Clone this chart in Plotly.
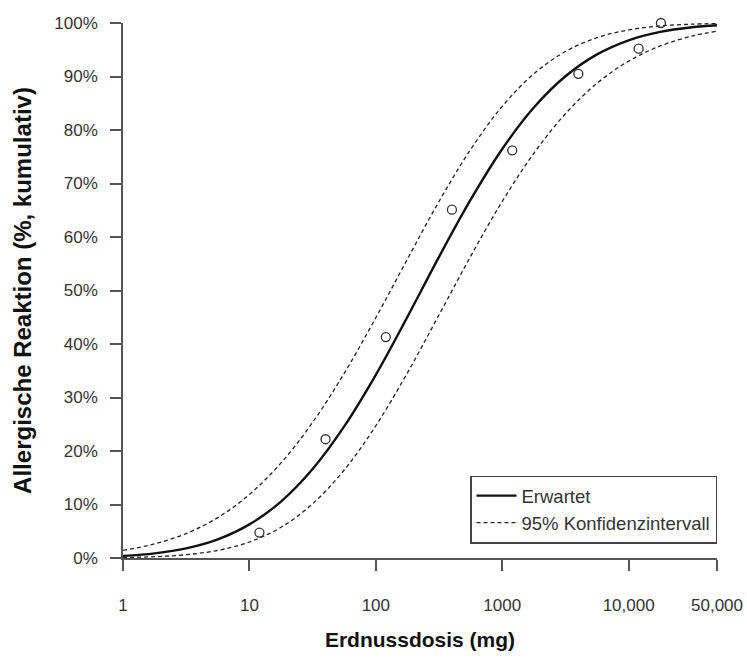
import plotly.graph_objects as go

# Observed data (dose in mg, cumulative % reacting)
obs_dose = [12, 40, 120, 400, 1200, 4000, 12000, 18000]
obs_pct = [0.0476, 0.222, 0.413, 0.651, 0.762, 0.905, 0.952, 1.000]

# Curves at log-spaced doses
curve_dose = [1, 1.778, 3.162, 5.623, 10, 17.78, 31.62, 56.23, 100, 177.8,
              316.2, 562.3, 1000, 1778, 3162, 5623, 10000, 17780, 31620, 50000]
expected = [0.0039, 0.0087, 0.0180, 0.0348, 0.0628, 0.1055, 0.1663, 0.2460, 0.3424, 0.4507,
            0.5628, 0.6697, 0.7645, 0.8420, 0.9004, 0.9413, 0.9677, 0.9834, 0.9920, 0.9958]
ci_upper = [0.0143, 0.0263, 0.0457, 0.0755, 0.1187, 0.1777, 0.2535, 0.3452, 0.4491, 0.5588,
            0.6664, 0.7637, 0.8442, 0.9050, 0.9467, 0.9726, 0.9871, 0.9945, 0.9978, 0.9990]
ci_lower = [0.0009, 0.0024, 0.0062, 0.0142, 0.0299, 0.0574, 0.1013, 0.1645, 0.2472, 0.3461,
            0.4544, 0.5638, 0.6665, 0.7565, 0.8303, 0.8873, 0.9287, 0.9571, 0.9755, 0.9849]

x_tickvals = [1, 10, 100, 1000, 10000, 50000]
x_ticktext = ["1", "10", "100", "1000", "10,000", "50,000"]
y_tickvals = [0, 0.1, 0.2, 0.3, 0.4, 0.5, 0.6, 0.7, 0.8, 0.9, 1.0]
y_ticktext = ["0%", "10%", "20%", "30%", "40%", "50%", "60%", "70%", "80%", "90%", "100%"]

FONT = "Liberation Sans, Arial, sans-serif"
AXIS_COL = "#555555"

fig = go.Figure()
fig.add_trace(go.Scatter(x=curve_dose, y=expected, mode="lines", name="Erwartet",
                         line=dict(color="#111111", width=2.4, shape="spline"),
                         cliponaxis=False))
fig.add_trace(go.Scatter(x=curve_dose, y=ci_upper, mode="lines", name="95% Konfidenzintervall",
                         line=dict(color="#222222", width=1.3, dash="4px,3px", shape="spline"),
                         cliponaxis=False))
fig.add_trace(go.Scatter(x=curve_dose, y=ci_lower, mode="lines", name="95% Konfidenzintervall",
                         line=dict(color="#222222", width=1.3, dash="4px,3px", shape="spline"),
                         showlegend=False, cliponaxis=False))
fig.add_trace(go.Scatter(x=obs_dose, y=obs_pct, mode="markers", showlegend=False,
                         marker=dict(symbol="circle-open", size=9, color="#333333",
                                     line=dict(width=1.3, color="#333333")),
                         cliponaxis=False))

fig.update_layout(
    width=747, height=662,
    margin=dict(l=123, r=30, t=23, b=104, autoexpand=False),
    paper_bgcolor="white", plot_bgcolor="white",
    font=dict(family=FONT, size=17, color="#333333"),
    showlegend=True,
    legend=dict(x=1.0, xanchor="right", y=0.027, yanchor="bottom",
                bgcolor="white", bordercolor="#444444", borderwidth=1.5,
                font=dict(family=FONT, size=18.5, color="#333333"),
                itemwidth=40, tracegroupgap=0),
    xaxis=dict(type="log", range=[0, 4.69897], tickvals=x_tickvals, ticktext=x_ticktext,
               showgrid=False, zeroline=False, showline=True, linecolor=AXIS_COL, linewidth=1.6,
               ticks="outside", ticklen=11, tickwidth=1.6, tickcolor=AXIS_COL,
               ticklabelstandoff=20,
               title=dict(text="Erdnussdosis (mg)", standoff=18,
                          font=dict(family=FONT, size=21, color="#111111", weight="bold")),
               automargin=False),
    yaxis=dict(range=[0, 1.0], tickvals=y_tickvals, ticktext=y_ticktext,
               showgrid=False, zeroline=False, showline=True, linecolor=AXIS_COL, linewidth=1.6,
               ticks="outside", ticklen=11, tickwidth=1.6, tickcolor=AXIS_COL,
               ticklabelstandoff=9,
               title=dict(text="Allergische Reaktion (%, kumulativ)", standoff=16,
                          font=dict(family=FONT, size=24, color="#111111", weight="bold")),
               automargin=False),
)

fig.write_html("out.html")
